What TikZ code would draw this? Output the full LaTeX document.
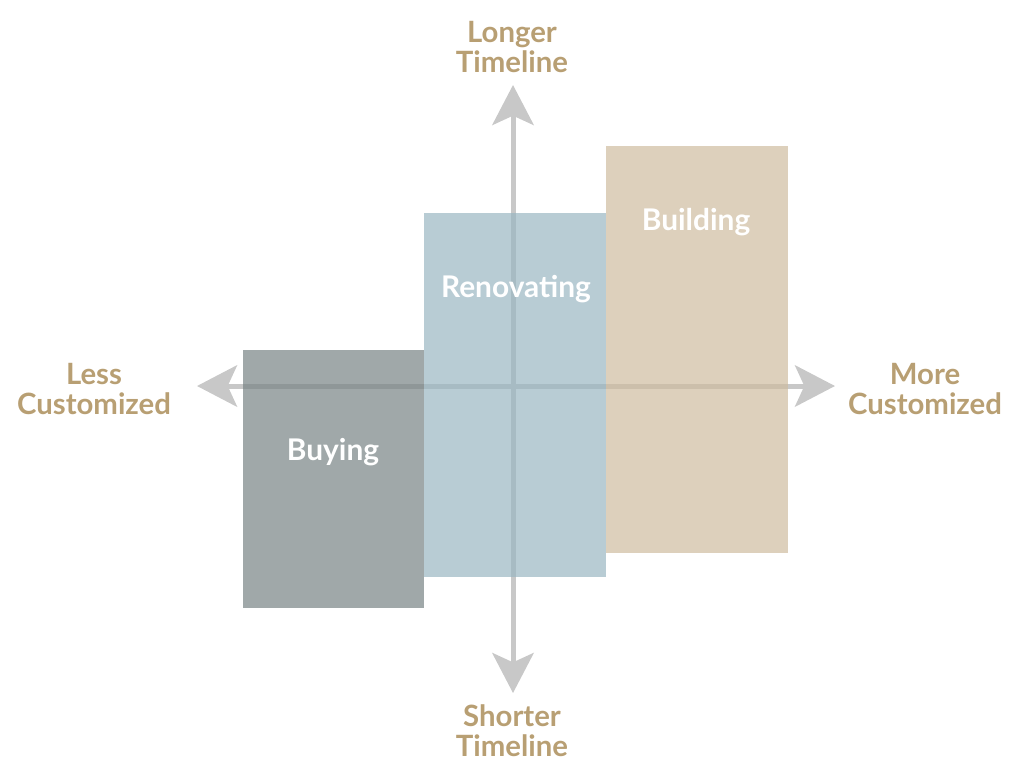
\documentclass[tikz,border=0pt]{standalone}
\usepackage{xcolor}
\usepackage{fontspec}
\setmainfont{Lato}
\usepackage{tikz}
\usetikzlibrary{arrows.meta}

\definecolor{axisgray}{RGB}{200,200,200}
\definecolor{labelgold}{RGB}{184,159,115}
\definecolor{buyfill}{RGB}{119,131,132}
\definecolor{renofill}{RGB}{154,182,194}
\definecolor{buildfill}{RGB}{206,188,159}

\tikzset{
  axisline/.style={axisgray, line width=3.75pt,
    {Stealth[length=30pt,width=31pt,inset=7pt]}-{Stealth[length=30pt,width=31pt,inset=7pt]}},
  axislabel/.style={labelgold, font=\fontsize{22}{22.5}\selectfont\bfseries, align=center},
  boxlabel/.style={white, font=\fontsize{22.4}{24}\selectfont\bfseries},
  panel/.style={fill opacity=0.7}
}

\begin{document}
\begin{tikzpicture}[x=0.75pt,y=-0.75pt]
\useasboundingbox (0,0) rectangle (1024,776);
% axis ends
\coordinate (west) at (197,386);
\coordinate (east) at (835,386);
\coordinate (north) at (513,85);
\coordinate (south) at (513,693);
\draw[axisline] (west) -- (east);
\draw[axisline] (south) -- (north);
% the three options
\fill[buyfill, panel] (243,350) rectangle (424,608);
\fill[renofill, panel] (424,213) rectangle (606,577);
\fill[buildfill, panel] (606,146) rectangle (788,553);
\node[boxlabel] (buying) at (333,452) {Buying};
\node[boxlabel] (renovating) at (516,289) {Renovating};
\node[boxlabel] (building) at (696,222) {Building};
% axis labels
\node[axislabel] (less) at (94,389) {Less\\Customized};
\node[axislabel] (more) at (925,389) {More\\Customized};
\node[axislabel] (longer) at (512,47) {Longer\\Timeline};
\node[axislabel] (shorter) at (512,731) {Shorter\\Timeline};
\end{tikzpicture}
\end{document}
